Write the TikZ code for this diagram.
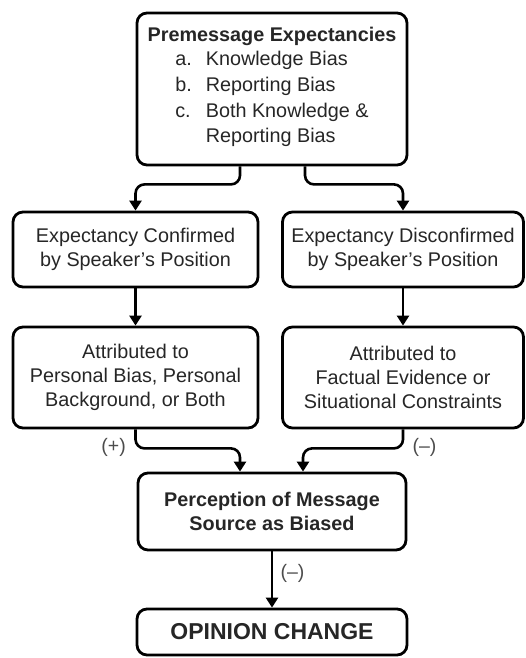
\documentclass[tikz,border=0pt]{standalone}
\usepackage{fontspec}
\setmainfont{Liberation Sans}
\usetikzlibrary{arrows.meta}
\begin{document}
\begin{tikzpicture}[x=1pt,y=-1pt,
  box/.style={draw=black, line width=2.8pt, rounded corners=10pt, align=center,
    inner sep=0pt, font=\fontsize{19.8}{23.8}\selectfont, text=black!85},
  conn/.style={line width=2.6pt, rounded corners=9pt, -{Triangle[width=12pt,length=10pt]}},
  sign/.style={font=\fontsize{19.5}{21}\selectfont, text=black!70}]
\useasboundingbox (0,0) rectangle (525,658);

\node[box, minimum width=270pt, minimum height=152pt] (top) at (272,89)
  {\textbf{Premessage Expectancies}\\[1pt]
   {\renewcommand{\arraystretch}{1.08}\begin{tabular}{@{}l@{\hspace{14pt}}l@{}}
   a. & Knowledge Bias\\
   b. & Reporting Bias\\
   c. & Both Knowledge \&\\
      & Reporting Bias
   \end{tabular}}};

\node[box, minimum width=245pt, minimum height=75pt] (lm) at (135.5,249.5)
  {Expectancy Confirmed\\by Speaker’s Position};
\node[box, minimum width=241pt, minimum height=75pt] (rm) at (403,249.5)
  {Expectancy Disconfirmed\\by Speaker’s Position};

\node[box, minimum width=245pt, minimum height=101pt] (lt) at (135.5,377.5)
  {Attributed to\\Personal Bias, Personal\\Background, or Both};
\node[box, minimum width=241pt, minimum height=101pt] (rt) at (403,377.5)
  {Attributed to\\Factual Evidence or\\Situational Constraints};

\node[box, minimum width=268pt, minimum height=77pt] (pc) at (272,511.5)
  {\textbf{Perception of Message}\\\textbf{Source as Biased}};

\node[box, minimum width=270pt, minimum height=46pt, font=\fontsize{23}{26}\selectfont\bfseries] (oc) at (272,632)
  {OPINION CHANGE};

\draw[conn] ([xshift=-32pt]top.south) -- ++(0,18) -| (lm.north);
\draw[conn] ([xshift=33pt]top.south) -- ++(0,18) -| (rm.north);
\draw[conn] (lm.south) -- (lt.north);
\draw[conn] (rm.south) -- (rt.north);
\draw[conn] (lt.south) -- node[sign, pos=0.95, anchor=east, xshift=-5pt]{(+)} ++(0,19) -| ([xshift=-32pt]pc.north);
\draw[conn] (rt.south) -- node[sign, pos=0.95, anchor=west, xshift=5pt]{(–)} ++(0,19) -| ([xshift=31pt]pc.north);
\draw[conn] (pc.south) -- node[sign, pos=0.4, anchor=west, xshift=4pt]{(–)} (oc.north);
\end{tikzpicture}
\end{document}
